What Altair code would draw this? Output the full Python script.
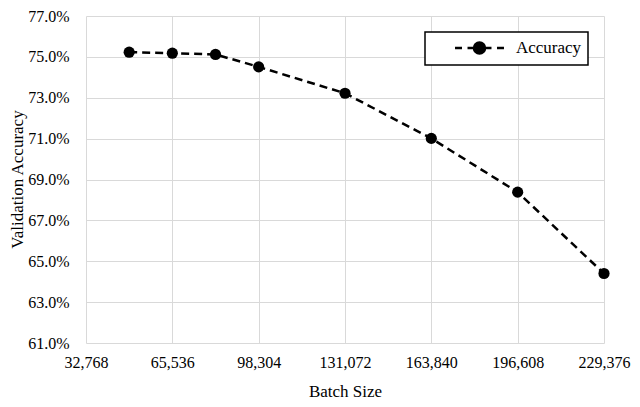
import altair as alt
import pandas as pd

batch_sizes = [49152, 65536, 81920, 98304, 131072, 163840, 196608, 229376]
accuracy = [0.7523, 0.7518, 0.7512, 0.7451, 0.7322, 0.7101, 0.6838, 0.6440]
series = ["Accuracy"] * len(batch_sizes)
x_ticks = [32768, 65536, 98304, 131072, 163840, 196608, 229376]
y_ticks = [0.61, 0.63, 0.65, 0.67, 0.69, 0.71, 0.73, 0.75, 0.77]

df = pd.DataFrame({"batch": batch_sizes, "acc": accuracy, "series": series})

FONT = "Liberation Serif"
NBSP = "\u00a0"
symbol_path = ("M-2.88,0H-2.06M-1.41,0H-0.65M0.65,0H1.41M2.06,0H2.88"
               "M-0.65,0A0.65,0.65 0 1,1 0.65,0A0.65,0.65 0 1,1 -0.65,0Z")

x = alt.X("batch:Q", title="Batch Size",
          scale=alt.Scale(domain=[32768, 229376], nice=False, zero=False),
          axis=alt.Axis(values=x_ticks, format=",d", ticks=False, domain=False,
                        labelFont=FONT, labelFontSize=16, labelColor="black",
                        labelFlush=False, labelOverlap=False,
                        titleFont=FONT, titleFontSize=17, titleColor="black",
                        titleFontWeight="normal",
                        labelPadding=11, titleY=53, titleBaseline="alphabetic",
                        gridColor="#d9d9d9"))
y = alt.Y("acc:Q", title="Validation Accuracy",
          scale=alt.Scale(domain=[0.61, 0.77], nice=False, zero=False),
          axis=alt.Axis(values=y_ticks, format=".1%", ticks=False, domain=False,
                        labelFont=FONT, labelFontSize=16, labelColor="black",
                        labelFlush=False, labelOverlap=False,
                        titleFont=FONT, titleFontSize=17, titleColor="black",
                        titleFontWeight="normal",
                        labelPadding=17, titleX=-69, titleY=163,
                        titleBaseline="middle", titleAngle=-90,
                        gridColor="#d9d9d9"))

line = alt.Chart(df).mark_line(color="black", strokeWidth=2.5,
                               strokeDash=[8, 5]).encode(x=x, y=y)
points = alt.Chart(df).mark_point(filled=True, size=125, opacity=1).encode(
    x=x, y=y,
    color=alt.Color("series:N", scale=alt.Scale(domain=["Accuracy"], range=["black"]),
                    legend=alt.Legend(title=None, orient="none", legendX=339, legendY=16,
                                      symbolType=symbol_path, symbolSize=289,
                                      symbolStrokeColor="black", symbolFillColor="black",
                                      symbolStrokeWidth=2.5, symbolOpacity=1,
                                      labelOffset=26.5, symbolOffset=38.5,
                                      labelExpr="datum.label + '" + NBSP * 5 + "'",
                                      padding=6, strokeColor="black", fillColor="white",
                                      labelFontSize=17, labelFont=FONT, labelColor="black"))
)

chart = (line + points).properties(
    width=518, height=327,
    autosize=alt.AutoSizeParams(type="none"),
    padding={"left": 78, "top": 8, "right": 28, "bottom": 56},
).configure(font=FONT).configure_axis(
    labelFont=FONT, titleFont=FONT,
    gridColor="#d9d9d9", gridWidth=1,
).configure_view(stroke=None).configure_legend(strokeWidth=1.5)

chart.save("out.html", embed_options={"renderer": "svg", "actions": False})
